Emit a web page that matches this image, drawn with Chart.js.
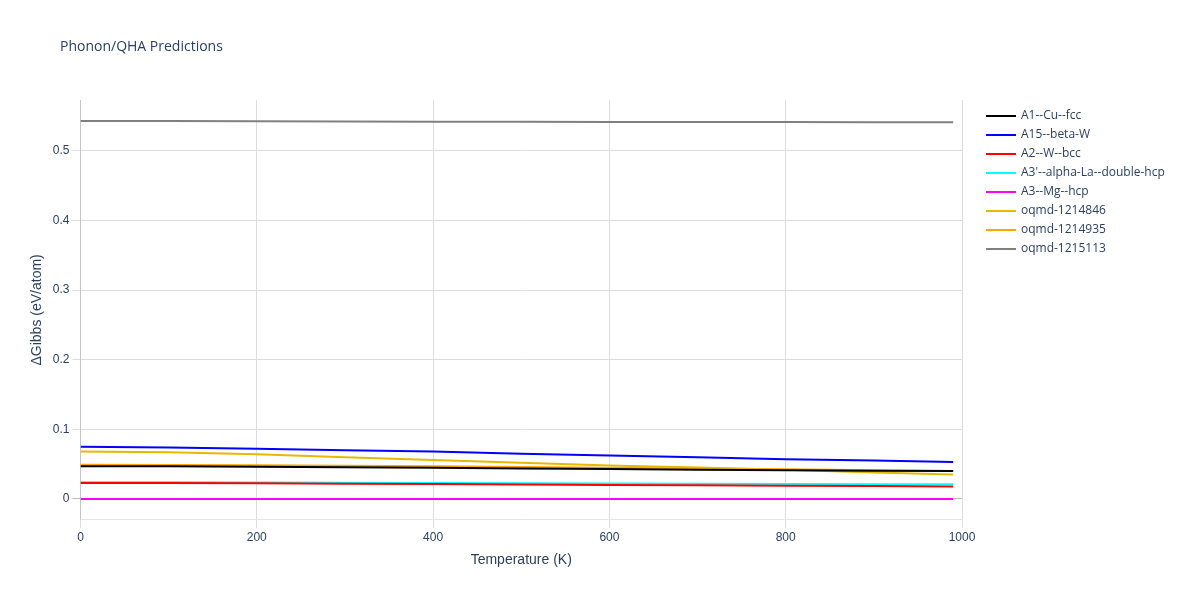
<!DOCTYPE html>
<html>
<head>
<script src="https://cdn.jsdelivr.net/npm/chart.js@4.4.0/dist/chart.umd.min.js"></script>
<style>
body { margin: 0; background: #fff; font-family: "Open Sans", sans-serif; }
#wrap { position: relative; width: 1200px; height: 600px; }
#title { position: absolute; left: 60px; top: 36px; font-size: 14px; color: #2a3f5f; }
#legend { position: absolute; left: 986px; top: 105px; font-size: 12px; color: #2a3f5f; }
#legend div { height: 19px; line-height: 19px; white-space: nowrap; }
#legend span { display: inline-block; width: 30px; height: 2px; vertical-align: middle; margin-right: 5px; }
</style>
</head>
<body>
<div id="wrap">
<div id="title">Phonon/QHA Predictions</div>
<div id="legend"></div>
<canvas id="chart" width="1200" height="600"></canvas>
</div>
<script>
var temps = [0, 100, 200, 300, 400, 500, 600, 700, 800, 900, 990];
var names = ["A1--Cu--fcc", "A15--beta-W", "A2--W--bcc", "A3'--alpha-La--double-hcp", "A3--Mg--hcp", "oqmd-1214846", "oqmd-1214935", "oqmd-1215113"];
var colors = ["#000000", "#0000ff", "#ff0000", "#00ffff", "#ff00ff", "#e6b800", "#ffa500", "#808080"];
var cuFcc = [0.047, 0.0468, 0.0462, 0.0455, 0.0447, 0.0438, 0.0428, 0.0419, 0.0411, 0.0404, 0.040];
var betaW = [0.075, 0.074, 0.072, 0.070, 0.068, 0.065, 0.0625, 0.060, 0.057, 0.055, 0.053];
var wBcc = [0.023, 0.0228, 0.0224, 0.0219, 0.0213, 0.0207, 0.0201, 0.0195, 0.0189, 0.0184, 0.018];
var laHcp = [0.024, 0.0239, 0.0236, 0.0232, 0.0228, 0.0224, 0.0221, 0.0218, 0.0215, 0.0212, 0.021];
var mgHcp = [0, 0, 0, 0, 0, 0, 0, 0, 0, 0, 0];
var oqmd846 = [0.068, 0.067, 0.064, 0.060, 0.056, 0.052, 0.048, 0.045, 0.042, 0.038, 0.035];
var oqmd935 = [0.049, 0.0488, 0.0483, 0.0476, 0.0468, 0.0459, 0.0449, 0.0438, 0.0425, 0.0412, 0.040];
var oqmd113 = [0.543, 0.5428, 0.5425, 0.5422, 0.5419, 0.5417, 0.5415, 0.5414, 0.5413, 0.5412, 0.541];
var series = [cuFcc, betaW, wBcc, laHcp, mgHcp, oqmd846, oqmd935, oqmd113];

var datasets = [];
var legendHtml = "";
for (var i in series) {
    datasets.push({
        label: names[i],
        borderColor: colors[i],
        backgroundColor: colors[i],
        borderWidth: 2,
        pointRadius: 0,
        data: temps.map(function (t, j) { return {x: t, y: series[i][j]}; })
    });
    legendHtml += "<div><span style='background:" + colors[i] + "'></span>" + names[i] + "</div>";
}
document.getElementById("legend").innerHTML = legendHtml;

var ctx = document.getElementById("chart").getContext("2d");
new Chart(ctx, {
    type: "line",
    data: {datasets: datasets},
    options: {
        responsive: false,
        animation: false,
        layout: {padding: {top: 100, left: 25, bottom: 27, right: 238}},
        plugins: {
            legend: {display: false},
            tooltip: {enabled: false}
        },
        scales: {
            x: {
                type: "linear", min: 0, max: 1000,
                ticks: {stepSize: 200, color: "#2a3f5f", font: {size: 12}, callback: function (v) { return String(v); }},
                grid: {color: "#dddddd"},
                title: {display: true, text: "Temperature (K)", color: "#2a3f5f", font: {size: 14}}
            },
            y: {
                min: -0.03, max: 0.573,
                afterBuildTicks: function (axis) {
                    axis.ticks = [0, 0.1, 0.2, 0.3, 0.4, 0.5].map(function (v) { return {value: v}; });
                },
                ticks: {color: "#2a3f5f", font: {size: 12}, callback: function (v) { return v === 0 ? "0" : v.toFixed(1); }},
                grid: {color: function (c) { return c.tick && c.tick.value === 0 ? "#bbbbbb" : "#dddddd"; }},
                title: {display: true, text: "\u0394Gibbs (eV/atom)", color: "#2a3f5f", font: {size: 14}}
            }
        }
    }
});
</script>
</body>
</html>
